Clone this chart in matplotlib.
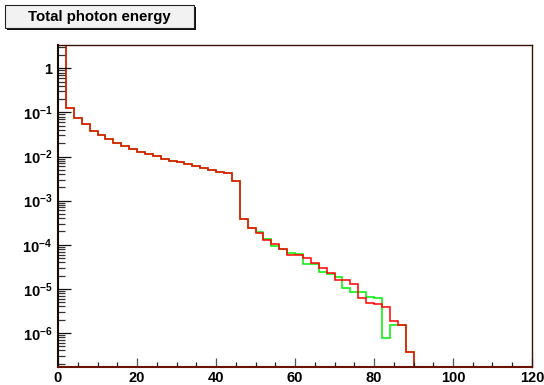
import numpy as np
import matplotlib
matplotlib.use("Agg")
import matplotlib.pyplot as plt
from matplotlib.ticker import LogLocator, MultipleLocator, FixedLocator, FixedFormatter
from matplotlib.patches import Rectangle

plt.rcParams['font.family'] = ['Liberation Sans', 'DejaVu Sans']
plt.rcParams['font.weight'] = 'bold'
plt.rcParams['mathtext.fontset'] = 'custom'
plt.rcParams['mathtext.rm'] = 'Liberation Sans:bold'
plt.rcParams['mathtext.bf'] = 'Liberation Sans:bold'
plt.rcParams['mathtext.default'] = 'bf'

# histogram data, 2-unit bins from 0 to 120
bin_edges = np.arange(0, 122, 2)

red_counts = [5.0, 0.128, 0.0735, 0.0546, 0.0373, 0.0303, 0.0245, 0.0206, 0.0173, 0.0148,
              0.01265, 0.0114, 0.01026, 0.00877, 0.00803, 0.00739, 0.00665, 0.00609, 0.00549, 0.00494,
              0.00452, 0.00416, 0.00283, 0.000377, 0.000245, 0.000184, 0.000126, 0.000106, 8.2e-5, 5.93e-5,
              6.0e-5, 4.92e-5, 3.91e-5, 2.92e-5, 2.25e-5, 1.58e-5, 1.58e-5, 1.29e-5, 6.1e-6, 4.7e-6,
              4.5e-6, 3.8e-6, 1.86e-6, 1.51e-6, 3.75e-7] + [0] * 15

green_counts = [5.0, 0.128, 0.0735, 0.0546, 0.0373, 0.0303, 0.0245, 0.0206, 0.0173, 0.0148,
                0.01265, 0.0114, 0.01026, 0.00877, 0.00803, 0.00739, 0.00665, 0.00609, 0.00549, 0.00494,
                0.00452, 0.00416, 0.00283, 0.000377, 0.000245, 0.000194, 0.000137, 9.6e-5, 8.2e-5, 6.38e-5,
                6.15e-5, 3.65e-5, 3.65e-5, 2.44e-5, 2.17e-5, 1.88e-5, 1.06e-5, 8.3e-6, 8.6e-6, 6.4e-6,
                6.1e-6, 7.5e-7, 1.55e-6, 1.51e-6, 3.75e-7] + [0] * 15

x_tick_labels = ['0', '20', '40', '60', '80', '100', '120']
y_tick_values = [1, 1e-1, 1e-2, 1e-3, 1e-4, 1e-5, 1e-6]
y_tick_labels = ['1', '$10^{-1}$', '$10^{-2}$', '$10^{-3}$', '$10^{-4}$', '$10^{-5}$', '$10^{-6}$']

title = 'Total photon energy'

W, H = 544, 385
fig = plt.figure(figsize=(W / 100, H / 100), dpi=100)
ax = fig.add_axes([58 / W, 1 - 367 / H, (532 - 58) / W, (367 - 45) / H])

ymin, ymax = 1.69e-7, 3.38
ax.set_yscale('log')
ax.set_xlim(0, 120)
ax.set_ylim(ymin, ymax)

# empty bins are drawn on the bottom of the frame, like ROOT does
ax.stairs(np.clip(green_counts, ymin, None), bin_edges, baseline=None, color='#00ee00', lw=1.1)
ax.stairs(np.clip(red_counts, ymin, None), bin_edges, baseline=None, color='#ff0000', lw=1.1)

# axes / ticks
ax.xaxis.set_major_locator(FixedLocator([0, 20, 40, 60, 80, 100, 120]))
ax.xaxis.set_major_formatter(FixedFormatter(x_tick_labels))
ax.xaxis.set_minor_locator(MultipleLocator(5))
ax.yaxis.set_major_locator(FixedLocator(y_tick_values))
ax.yaxis.set_major_formatter(FixedFormatter(y_tick_labels))
ax.yaxis.set_minor_locator(LogLocator(base=10, subs=np.arange(2, 10), numticks=20))
ax.yaxis.set_minor_formatter(plt.NullFormatter())

ax.tick_params(axis='x', which='major', direction='in', length=6.5, width=0.9, color='#555555',
               labelsize=10.5, pad=3)
ax.tick_params(axis='x', which='minor', direction='in', length=3.6, width=0.9, color='#222222')
ax.tick_params(axis='y', which='major', direction='in', length=9.4, width=0.9, color='#111111',
               labelsize=10.5, pad=4)
ax.tick_params(axis='y', which='minor', direction='in', length=4.8, width=0.9, color='#333333')
ax.tick_params(top=False, right=False, which='both')

for lbl in ax.get_xticklabels() + ax.get_yticklabels():
    lbl.set_fontweight('bold')

ax.spines['left'].set_color('#1a0a05')
ax.spines['left'].set_linewidth(1.5)
ax.spines['bottom'].set_color('#6a1200')
ax.spines['bottom'].set_linewidth(1.5)
ax.spines['top'].set_color('#3a1208')
ax.spines['top'].set_linewidth(1.0)
ax.spines['right'].set_color('#3a1208')
ax.spines['right'].set_linewidth(1.0)

# title box with shadow
shadow = Rectangle((7 / W, 1 - 29.5 / H), 189 / W, 22.5 / H, transform=fig.transFigure,
                   facecolor='#111111', edgecolor='none')
box = Rectangle((5 / W, 1 - 27.5 / H), 189 / W, 22.5 / H, transform=fig.transFigure,
                facecolor='#f2f2f2', edgecolor='#222222', lw=0.8)
fig.patches.extend([shadow, box])
fig.text(99.5 / W, 1 - 16.5 / H, title, ha='center', va='center', fontsize=10.8,
         fontweight='bold', color='black')

fig.savefig('out.png', dpi=100)
